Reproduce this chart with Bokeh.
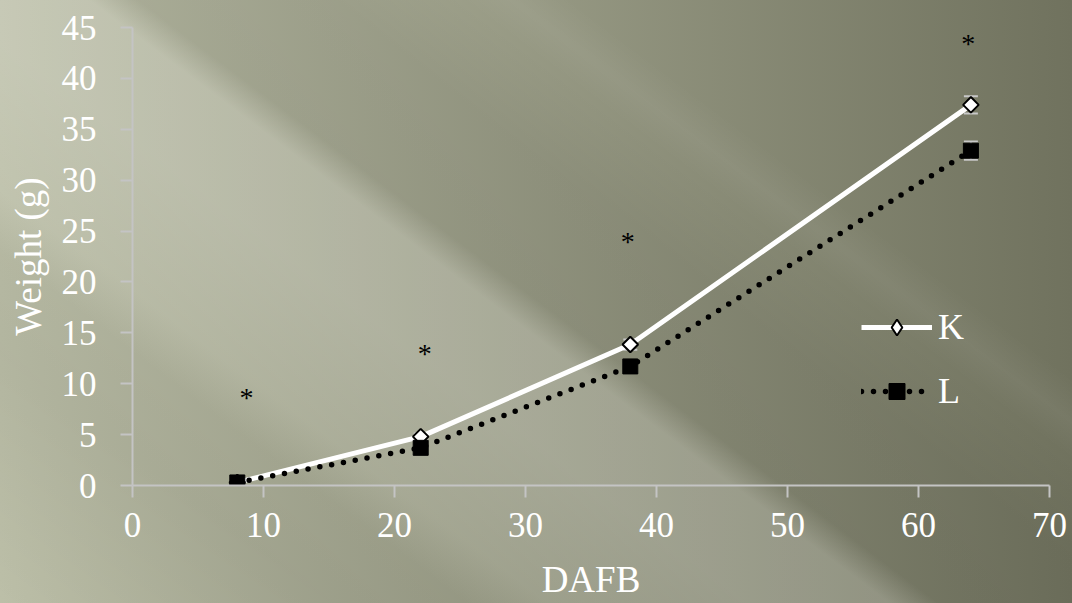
from math import pi
from bokeh.plotting import figure
from bokeh.models import (ColumnDataSource, Whisker, TeeHead, Legend, LegendItem,
                          CDSView, IndexFilter)
from bokeh.core.properties import value
from bokeh.embed import file_html
from bokeh.resources import INLINE

# ---- data ----
days = [8, 22, 38, 64]
k_weight = [0.3, 4.8, 13.85, 37.4]
l_weight = [0.3, 3.7, 11.7, 32.9]
k_err = [0.1, 0.3, 0.5, 0.85]
l_err = [0.1, 0.3, 0.4, 0.9]
star_x = [8.7, 22.3, 37.8, 63.8]
star_y = [8.6, 13.0, 24.0, 43.4]
star_text = ["*", "*", "*", "*"]
x_ticks = [0, 10, 20, 30, 40, 50, 60, 70]
y_ticks = [0, 5, 10, 15, 20, 25, 30, 35, 40, 45]
series_labels = ["K", "L"]

FONT = "Liberation Serif"

bg = ("linear-gradient(37deg, rgba(0,0,0,0) 0px, rgba(0,0,0,0.05) 200px, "
      "rgba(0,0,0,0.04) 280px, rgba(255,255,255,0.08) 330px, "
      "rgba(255,255,255,0.16) 450px, rgba(255,255,255,0.16) 535px, "
      "rgba(0,0,0,0.06) 565px, rgba(0,0,0,0.05) 680px, rgba(0,0,0,0) 760px, "
      "rgba(255,255,255,0.05) 790px, rgba(0,0,0,0) 825px), "
      "linear-gradient(to right, #bcbfa8 0%, #70725e 100%)")

p = figure(width=1072, height=603, x_range=(0, 70), y_range=(0, 45),
           output_backend="svg", toolbar_location=None,
           min_border_left=132, min_border_right=23,
           min_border_top=27, min_border_bottom=118)
p.styles = {"background-image": bg}
p.background_fill_color = None
p.border_fill_color = None
p.outline_line_color = None
p.xgrid.visible = False
p.ygrid.visible = False

for ax in (p.xaxis, p.yaxis):
    ax.axis_line_color = "#c4c4c4"
    ax.axis_line_width = 2
    ax.major_tick_line_color = "#c4c4c4"
    ax.major_tick_line_width = 2
    ax.major_tick_in = 0
    ax.major_tick_out = 12
    ax.minor_tick_line_color = None
    ax.major_label_text_color = "white"
    ax.major_label_text_font = FONT
    ax.major_label_text_font_size = "35px"
    ax.axis_label_text_color = "white"
    ax.axis_label_text_font = FONT
    ax.axis_label_text_font_size = "37px"
    ax.axis_label_text_font_style = "normal"

p.xaxis.ticker = x_ticks
p.yaxis.ticker = y_ticks
p.xaxis.axis_label = "DAFB"
p.yaxis.axis_label = "Weight (g)"
p.xaxis.major_label_standoff = 15
p.yaxis.major_label_standoff = 24
p.xaxis.axis_label_standoff = 19
p.yaxis.axis_label_standoff = 10

k_src = ColumnDataSource(dict(x=days, y=k_weight,
                              up=[v + e for v, e in zip(k_weight, k_err)],
                              lo=[v - e for v, e in zip(k_weight, k_err)]))
l_src = ColumnDataSource(dict(x=days, y=l_weight,
                              up=[v + e for v, e in zip(l_weight, l_err)],
                              lo=[v - e for v, e in zip(l_weight, l_err)]))

for src in (k_src, l_src):
    w = Whisker(source=src, base="x", upper="up", lower="lo", dimension="height",
                line_color="#c8c8c8", line_width=2,
                upper_head=TeeHead(size=14, line_color="#c8c8c8", line_width=2),
                lower_head=TeeHead(size=14, line_color="#c8c8c8", line_width=2))
    p.add_layout(w)

k_line = p.line("x", "y", source=k_src, line_color="white", line_width=5)
k_mark = p.scatter("x", "y", source=k_src, marker="square", angle=pi / 4, size=11,
                   fill_color="white", line_color="black", line_width=2)
# legend key for K (legend draws markers unrotated): one point, hidden under L's square
k_key = p.scatter("x", "y", source=k_src, view=CDSView(filter=IndexFilter([0])),
                  marker="diamond", size=13,
                  fill_color="white", line_color="black", line_width=2)
l_line = p.line("x", "y", source=l_src, line_color="black", line_width=5.5,
                line_dash="0 12", line_cap="round")
l_mark = p.scatter("x", "y", source=l_src, marker="square", size=15,
                   fill_color="black", line_color="black", line_width=1)

p.text(x=star_x, y=star_y, text=star_text, text_font=value(FONT),
       text_font_size="28px", text_color="black", text_align="center",
       text_baseline="middle")

legend = Legend(items=[LegendItem(label=series_labels[0], renderers=[k_line, k_key]),
                       LegendItem(label=series_labels[1], renderers=[l_line, l_mark])],
                location=(729, 73), orientation="vertical",
                background_fill_alpha=0, border_line_alpha=0,
                label_text_color="white", label_text_font=FONT,
                label_text_font_size="36px",
                glyph_width=71, glyph_height=40, label_height=40,
                spacing=22, padding=0, margin=0, label_standoff=6)
p.add_layout(legend)

open("out.html", "w").write(file_html(p, INLINE))
